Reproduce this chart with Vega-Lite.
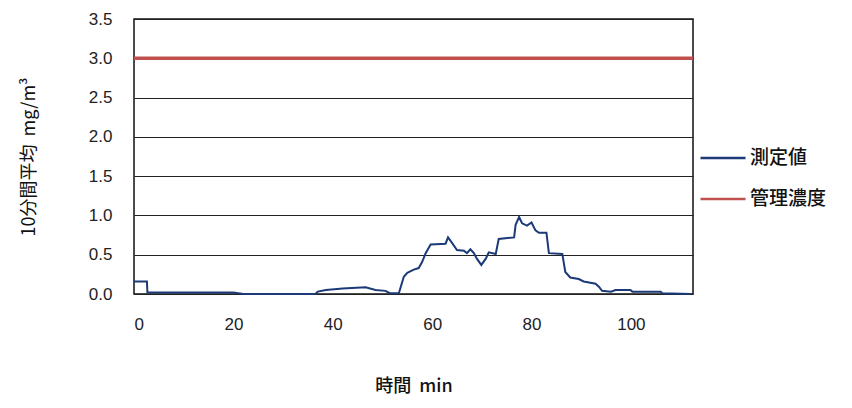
{
  "$schema": "https://vega.github.io/schema/vega-lite/v6.json",
  "description": "10分間平均の測定値と管理濃度",
  "autosize": {"type": "none"},
  "padding": {"left": 134, "top": 19, "right": 159, "bottom": 114},
  "width": 559,
  "height": 275,
  "background": "white",
  "config": {
    "font": "Liberation Sans",
    "view": {"stroke": "#111", "strokeWidth": 1.5},
    "axis": {
      "domain": false,
      "ticks": false,
      "labelFont": "Liberation Sans",
      "labelFontSize": 17,
      "labelColor": "#222",
      "titleFont": "Noto Sans CJK JP",
      "titleFontWeight": "normal",
      "titleColor": "#111"
    }
  },
  "datasets": {
    "measured": [
      {"t": 0, "v": 0.16},
      {"t": 2.6, "v": 0.16},
      {"t": 2.7, "v": 0.02},
      {"t": 10, "v": 0.02},
      {"t": 20, "v": 0.02},
      {"t": 22, "v": 0.0},
      {"t": 36.5, "v": 0.0},
      {"t": 37, "v": 0.03},
      {"t": 38.6, "v": 0.05},
      {"t": 42, "v": 0.07},
      {"t": 46.6, "v": 0.085},
      {"t": 48.6, "v": 0.05},
      {"t": 50.6, "v": 0.04},
      {"t": 51.5, "v": 0.01},
      {"t": 53.3, "v": 0.01},
      {"t": 54.3, "v": 0.22},
      {"t": 55, "v": 0.27},
      {"t": 56.3, "v": 0.31},
      {"t": 57.3, "v": 0.33},
      {"t": 58, "v": 0.41},
      {"t": 58.7, "v": 0.52},
      {"t": 59.7, "v": 0.63},
      {"t": 62.7, "v": 0.64},
      {"t": 63.2, "v": 0.72},
      {"t": 64, "v": 0.65},
      {"t": 65, "v": 0.56},
      {"t": 66.4, "v": 0.55},
      {"t": 67, "v": 0.52},
      {"t": 67.7, "v": 0.57},
      {"t": 68.4, "v": 0.52},
      {"t": 69, "v": 0.45},
      {"t": 69.9, "v": 0.37},
      {"t": 70.8, "v": 0.45},
      {"t": 71.4, "v": 0.53},
      {"t": 72.8, "v": 0.51},
      {"t": 73.4, "v": 0.7},
      {"t": 76.5, "v": 0.72},
      {"t": 76.8, "v": 0.88},
      {"t": 77.5, "v": 0.98},
      {"t": 78.1, "v": 0.9},
      {"t": 79.1, "v": 0.87},
      {"t": 80, "v": 0.91},
      {"t": 80.8, "v": 0.81},
      {"t": 81.5, "v": 0.78},
      {"t": 83, "v": 0.78},
      {"t": 83.5, "v": 0.52},
      {"t": 86.2, "v": 0.51},
      {"t": 86.8, "v": 0.28},
      {"t": 87.8, "v": 0.21},
      {"t": 89.5, "v": 0.19},
      {"t": 90.5, "v": 0.16},
      {"t": 92.9, "v": 0.13},
      {"t": 93.6, "v": 0.09},
      {"t": 94.2, "v": 0.04},
      {"t": 96, "v": 0.03},
      {"t": 96.9, "v": 0.05},
      {"t": 99.9, "v": 0.05},
      {"t": 100.3, "v": 0.03},
      {"t": 106, "v": 0.03},
      {"t": 106.3, "v": 0.01},
      {"t": 112, "v": 0.0}
    ],
    "limit": [
      {"t": 0, "v": 3.0},
      {"t": 112.5, "v": 3.0}
    ]
  },
  "encoding": {
    "x": {
      "field": "t",
      "type": "quantitative",
      "scale": {"domain": [0, 112.5], "nice": false},
      "axis": {
        "values": [0, 20, 40, 60, 80, 100],
        "grid": false,
        "labelPadding": 22,
        "title": "時間\u00a0\u00a0min",
        "titleFontSize": 18,
        "titleFontWeight": 500,
        "titlePadding": 45
      }
    },
    "y": {
      "field": "v",
      "type": "quantitative",
      "scale": {"domain": [0, 3.5], "nice": false},
      "axis": {
        "values": [0, 0.5, 1, 1.5, 2, 2.5, 3, 3.5],
        "format": ".1f",
        "grid": true,
        "gridColor": "#222",
        "gridWidth": 1,
        "labelPadding": 22,
        "title": "10分間平均\u00a0\u00a0mg/m³",
        "titleFontSize": 18,
        "titlePadding": 50
      }
    },
    "color": {
      "field": "series",
      "type": "nominal",
      "scale": {"domain": ["測定値", "管理濃度"], "range": ["#1d3a78", "#c0504d"]},
      "legend": {
        "title": null,
        "orient": "none",
        "legendX": 565,
        "legendY": 115,
        "symbolType": "stroke",
        "symbolSize": 2025,
        "symbolStrokeWidth": 2.5,
        "labelFont": "Noto Sans CJK JP",
        "labelFontSize": 19,
        "labelFontWeight": 500,
        "labelColor": "#111",
        "labelOffset": 3,
        "rowPadding": 7
      }
    }
  },
  "layer": [
    {
      "data": {"name": "limit"},
      "transform": [{"calculate": "'管理濃度'", "as": "series"}],
      "mark": {"type": "line", "strokeWidth": 3.5}
    },
    {
      "data": {"name": "measured"},
      "transform": [{"calculate": "'測定値'", "as": "series"}],
      "mark": {"type": "line", "strokeWidth": 2}
    }
  ]
}
